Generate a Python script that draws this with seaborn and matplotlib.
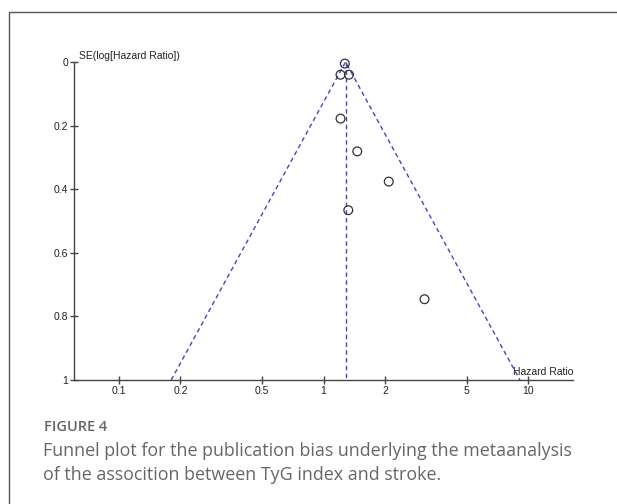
import numpy as np
import pandas as pd
import matplotlib
matplotlib.use("Agg")
import matplotlib.pyplot as plt
from matplotlib.patches import Rectangle
import seaborn as sns

# Study estimates: hazard ratio and standard error of log(HR)
hazard_ratio = [1.27, 1.21, 1.33, 1.21, 1.46, 2.08, 1.32, 3.11]
se_log_hr = [0.005, 0.04, 0.04, 0.178, 0.281, 0.376, 0.466, 0.746]

# Pooled estimate (vertical reference line and funnel apex)
pooled_hr = 1.28

x_ticks = [0.1, 0.2, 0.5, 1, 2, 5, 10]
x_tick_labels = ["0.1", "0.2", "0.5", "1", "2", "5", "10"]
y_ticks = [0, 0.2, 0.4, 0.6, 0.8, 1]
y_tick_labels = ["0", "0.2", "0.4", "0.6", "0.8", "1"]

caption_title = "FIGURE 4"
caption_lines = ["Funnel plot for the publication bias underlying the metaanalysis",
                 "of the assocition between TyG index and stroke."]

sns.set_theme(style="white")
plt.rcParams["font.family"] = ["Liberation Sans", "DejaVu Sans"]

W, H = 617, 504
fig = plt.figure(figsize=(W / 100, H / 100), dpi=100)

# outer frame of the figure panel
fig.patches.append(Rectangle((9 / W, -0.1), 1.2, 1 - 12 / H + 0.1,
                             transform=fig.transFigure, fill=False,
                             edgecolor="#555555", linewidth=1.0))

ax = fig.add_axes([74 / W, 1 - 380 / H, 499 / W, 318 / H])
ax.set_facecolor("none")

df = pd.DataFrame({"hr": hazard_ratio, "se": se_log_hr})

# 95% pseudo-confidence funnel around the pooled estimate
ln_p = np.log(pooled_hr)
funnel = pd.DataFrame({
    "hr": [np.exp(ln_p - 1.96), pooled_hr, np.exp(ln_p + 1.96)],
    "se": [1.0, 0.0, 1.0],
})
line_kw = dict(color="#4444c2", linewidth=1.0, linestyle=(0, (3.2, 2.4)))
ax.plot(funnel["hr"], funnel["se"], **line_kw, clip_on=False)
ax.plot([pooled_hr, pooled_hr], [0, 1], **line_kw, clip_on=False)

sns.scatterplot(data=df, x="hr", y="se", ax=ax, marker="o", s=40,
                facecolor="none", edgecolor="#333333", linewidth=0.9,
                clip_on=False, zorder=3)

ax.set_xscale("log")
ax.set_xlim(0.0605, 16.5)
ax.set_ylim(1, 0)
ax.set_xticks(x_ticks)
ax.set_xticklabels(x_tick_labels)
ax.xaxis.set_minor_locator(matplotlib.ticker.NullLocator())
ax.set_yticks(y_ticks)
ax.set_yticklabels(y_tick_labels)
ax.set_xlabel("")
ax.set_ylabel("")

for side in ["top", "right"]:
    ax.spines[side].set_visible(False)
for side in ["left", "bottom"]:
    ax.spines[side].set_color("#444444")
    ax.spines[side].set_linewidth(1.0)

ax.tick_params(axis="both", which="major", direction="inout", length=6,
               width=1.0, color="#444444", labelsize=7.5, labelcolor="#222222",
               left=True, bottom=True, pad=1)

ax.text(0.01, 1.0 + 6 / 318, "SE(log[Hazard Ratio])", transform=ax.transAxes,
        ha="left", va="center", fontsize=7.5, color="#222222")
ax.text(1.0, 8 / 318, "Hazard Ratio", transform=ax.transAxes,
        ha="right", va="center", fontsize=7.5, color="#222222")

cap_font = ["Open Sans", "DejaVu Sans"]
fig.text(44 / W, 1 - 427 / H, caption_title, ha="left", va="center",
         fontsize=10.5, color="#666666", family=cap_font,
         fontweight="semibold")
for i, line in enumerate(caption_lines):
    fig.text(43 / W, 1 - (451 + 24 * i) / H, line, ha="left", va="center",
             fontsize=12.9, color="#666666", family=cap_font)

fig.savefig("out.png", dpi=100)
